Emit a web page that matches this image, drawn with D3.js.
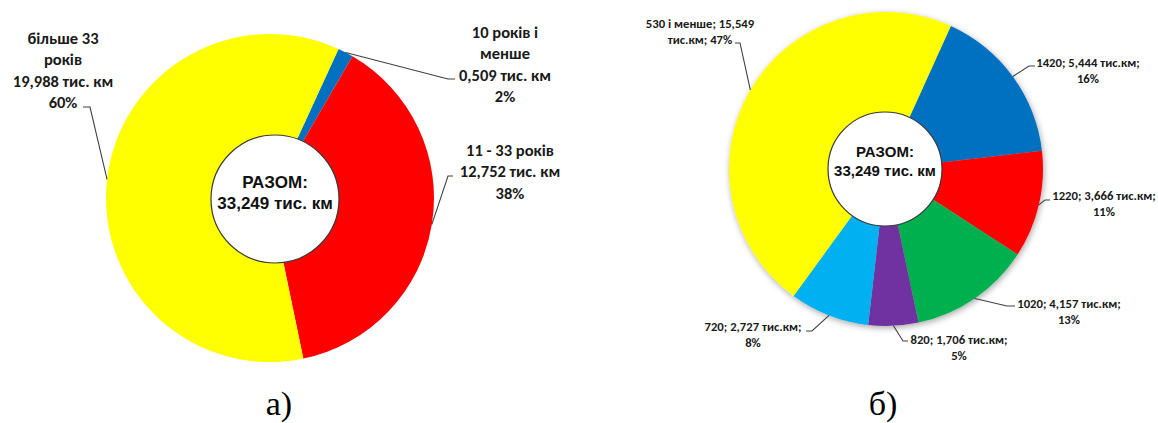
<!DOCTYPE html>
<html>
<head>
<meta charset="utf-8">
<script src="https://cdn.jsdelivr.net/npm/d3@7"></script>
<style>
  html, body { margin: 0; padding: 0; background: #fff; }
  svg { display: block; }
</style>
</head>
<body>
<svg id="chart" width="1158" height="423"></svg>
<script>
// ---------- DATA ----------
const totalLabel = "33,249 тис. км";
const leftCategories = ["10 років і менше", "11 - 33 років", "більше 33 років"];
const leftValues = [0.509, 12.752, 19.988];
const leftColors = ["#0070C0", "#FF0000", "#FFFF00"];
const leftNameLines = [["10 років і", "менше"], ["11 - 33 років"], ["більше 33", "років"]];

const rightCategories = ["1420", "1220", "1020", "820", "720", "530 і менше"];
const rightValues = [5.444, 3.666, 4.157, 1.706, 2.727, 15.549];
const rightColors = ["#0070C0", "#FF0000", "#00B050", "#7030A0", "#00B0F0", "#FFFF00"];

const captions = ["а)", "б)"];

// ---------- LAYOUT ----------
const svg = d3.select("#chart");
const defs = svg.append("defs");
const f = defs.append("filter").attr("id", "shadow")
  .attr("x", "-10%").attr("y", "-10%").attr("width", "120%").attr("height", "120%");
f.append("feDropShadow").attr("dx", 1).attr("dy", 2).attr("stdDeviation", 3)
  .attr("flood-color", "#000").attr("flood-opacity", 0.35);

const fmt = v => v.toFixed(3).replace(".", ",");
const deg = d => d * Math.PI / 180;
const labelFont = "Carlito, Lato, 'Open Sans', sans-serif";

function drawPie(opt) {
  const g = svg.append("g").attr("transform", `translate(${opt.cx},${opt.cy})`);
  const total = d3.sum(opt.values);
  const pie = d3.pie().sort(null).value(d => d)
    .startAngle(deg(opt.start)).endAngle(deg(opt.start) + 2 * Math.PI);
  const arcs = pie(opt.values);
  const arc = d3.arc().innerRadius(0).outerRadius(opt.r);
  const pg = g.append("g");
  if (opt.shadow) pg.attr("filter", "url(#shadow)");
  pg.selectAll("path").data(arcs).join("path")
    .attr("d", arc)
    .attr("fill", (d, i) => opt.colors[i]);

  // center circle
  g.append("circle").attr("cx", opt.hole.dx).attr("cy", opt.hole.dy).attr("r", opt.hole.r)
    .attr("fill", "#fff").attr("stroke", "#3a3a3a").attr("stroke-width", 1.2);
  const ct = g.append("text").attr("text-anchor", "middle")
    .attr("font-family", "'Liberation Sans', Arial, sans-serif").attr("font-weight", "bold")
    .attr("font-size", opt.centerSize).attr("fill", "#111");
  ct.append("tspan").attr("x", opt.hole.dx).attr("y", opt.centerY[0]).text("РАЗОМ:");
  ct.append("tspan").attr("x", opt.hole.dx).attr("y", opt.centerY[1]).text(totalLabel);

  // labels with leader lines
  arcs.forEach((a, i) => {
    const L = opt.labels[i];
    const mid = (a.startAngle + a.endAngle) / 2;
    const sx = opt.r * Math.sin(mid), sy = -opt.r * Math.cos(mid);
    const pts = [[sx, sy], [L.elbow[0] - opt.cx, L.elbow[1] - opt.cy], [L.end[0] - opt.cx, L.end[1] - opt.cy]];
    g.append("path").attr("d", d3.line()(pts))
      .attr("fill", "none").attr("stroke", "#404040").attr("stroke-width", 1.1);
    const lines = opt.lineText(i, Math.round(opt.values[i] / total * 100));
    const t = g.append("text").attr("text-anchor", "middle")
      .attr("font-family", labelFont).attr("font-weight", "bold")
      .attr("font-size", opt.labelSize).attr("fill", "#1a1a1a");
    lines.forEach((s, k) => {
      t.append("tspan").attr("x", L.x - opt.cx).attr("y", L.y0 - opt.cy + k * opt.lineH)
        .attr("dy", "0.35em").text(s);
    });
  });
}

drawPie({
  cx: 270, cy: 198, r: 164, start: 24.7,
  values: leftValues, colors: leftColors,
  hole: { dx: 5, dy: 1, r: 64 }, centerSize: 17, centerY: [-10, 11],
  labelSize: 16.5, lineH: 21.5,
  lineText: (i, p) => [...leftNameLines[i], fmt(leftValues[i]) + " тис. км", p + "%"],
  labels: [
    { x: 505, y0: 32, elbow: [448, 79], end: [455, 79] },
    { x: 510, y0: 150, elbow: [448, 176], end: [453, 176] },
    { x: 63, y0: 38, elbow: [90, 107], end: [83, 107] }
  ]
});

drawPie({
  cx: 886, cy: 169, r: 157, start: 24.4, shadow: true,
  values: rightValues, colors: rightColors,
  hole: { dx: -1, dy: 0, r: 57 }, centerSize: 15, centerY: [-12, 7],
  labelSize: 12.7, lineH: 15.8,
  lineText: (i, p) => i === 5
    ? [rightCategories[i] + "; " + fmt(rightValues[i]), "тис.км; " + p + "%"]
    : [rightCategories[i] + "; " + fmt(rightValues[i]) + " тис.км;", p + "%"],
  labels: [
    { x: 1088, y0: 63, elbow: [1029, 66], end: [1035, 66] },
    { x: 1104, y0: 196, elbow: [1045, 200], end: [1050, 200] },
    { x: 1069, y0: 304, elbow: [1007, 306], end: [1015, 306] },
    { x: 959, y0: 340, elbow: [903, 341], end: [908, 341] },
    { x: 753, y0: 327, elbow: [812, 331], end: [806, 331] },
    { x: 700, y0: 24, elbow: [740, 43], end: [735, 43] }
  ]
});

// captions
svg.selectAll("text.cap").data(captions).join("text").attr("class", "cap")
  .attr("x", (d, i) => [279, 883][i]).attr("y", 415)
  .attr("text-anchor", "middle")
  .attr("font-family", "'Liberation Serif', 'Times New Roman', serif")
  .attr("font-size", 34).attr("fill", "#000").text(d => d);
</script>
</body>
</html>
